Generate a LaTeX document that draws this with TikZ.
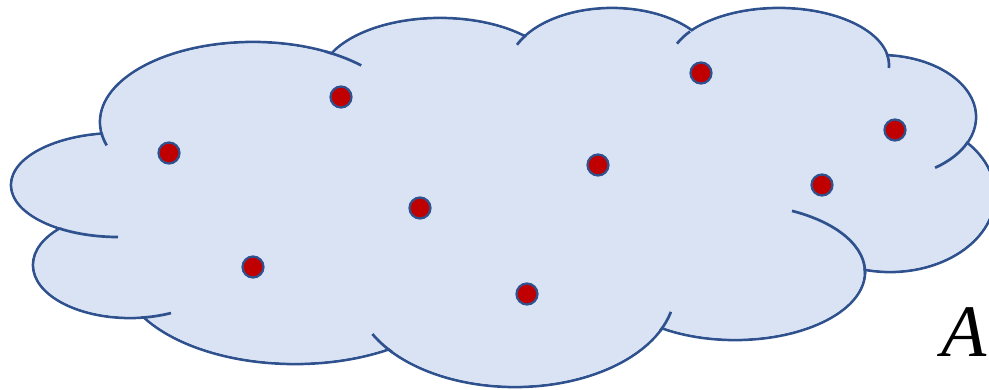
\documentclass[tikz,border=0pt]{standalone}
\usepackage{fontspec}
\newfontfamily\labelfont{Liberation Serif}
\definecolor{cloudfill}{HTML}{DAE3F3}
\definecolor{cloudline}{HTML}{2F528F}
\definecolor{dotred}{HTML}{C00000}
\tikzset{
  cloudstroke/.style={draw=cloudline, line width=2.7pt},
  hook/.style={draw=cloudline, line width=2.7pt},
  dotnode/.style={circle, minimum size=21pt, inner sep=0pt, fill=dotred, draw=cloudline, line width=2.2pt},
  labeltext/.style={anchor=base west, inner sep=0pt, font=\labelfont\itshape\fontsize{74}{74}\selectfont}
}
\def\bumps{253/122/153/80, 118/185/107/52, 130/265/97/53, 295/270/175/94, 515/290/160/97, 735/272/130/68, 890/195/105/77, 880/117/96/62, 779/65/110/57, 612/70/104/62, 440/80/120/62}
\def\corepoly{(253,122) -- (440,80) -- (612,70) -- (779,65) -- (880,117) -- (890,195) -- (735,272) -- (515,290) -- (295,270) -- (130,265) -- (118,185) -- cycle}
\begin{document}
\begin{tikzpicture}[x=1pt,y=-1pt]
\useasboundingbox (0,0) rectangle (989,389);
\clip (0,0) rectangle (989,389);
% base fill
\foreach \cx/\cy/\rx/\ry in \bumps {
  \fill[cloudfill] (\cx,\cy) ellipse[x radius=\rx, y radius=\ry];
}
\fill[cloudfill] \corepoly;
% outlines of every bump
\foreach \cx/\cy/\rx/\ry in \bumps {
  \draw[cloudstroke] (\cx,\cy) ellipse[x radius=\rx, y radius=\ry];
}
% cover inner parts
\foreach \cx/\cy/\rx/\ry in \bumps {
  \fill[cloudfill] (\cx,\cy) ellipse[x radius=\rx-1.45, y radius=\ry-1.45];
}
\fill[cloudfill] \corepoly;
% inner hooks
\draw[hook] (253,122) ++(172:153 and 80) arc[start angle=172, end angle=163, x radius=153, y radius=80];
\draw[hook] (253,122) ++(-62:153 and 80) arc[start angle=-62, end angle=-45, x radius=153, y radius=80];
\draw[hook] (118,185) ++(123:107 and 52) arc[start angle=123, end angle=90, x radius=107, y radius=52];
\draw[hook] (130,265) ++(83:97 and 53) arc[start angle=83, end angle=65, x radius=97, y radius=53];
\draw[hook] (515,290) ++(140:160 and 97) arc[start angle=140, end angle=153, x radius=160, y radius=97];
\draw[hook] (515,290) ++(25:160 and 97) arc[start angle=25, end angle=13, x radius=160, y radius=97];
\draw[hook] (735,272) ++(2:130 and 68) arc[start angle=2, end angle=-64, x radius=130, y radius=68];
\draw[hook] (880,117) ++(24:96 and 62) arc[start angle=24, end angle=55, x radius=96, y radius=62];
\draw[hook] (779,65) ++(-10:110 and 57) arc[start angle=-10, end angle=3, x radius=110, y radius=57];
\draw[hook] (779,65) ++(216:110 and 57) arc[start angle=216, end angle=202, x radius=110, y radius=57];
\draw[hook] (612,70) ++(214:104 and 62) arc[start angle=214, end angle=204, x radius=104, y radius=62];
% dots
\node[dotnode] (p1) at (169,153) {};
\node[dotnode] (p2) at (341,97) {};
\node[dotnode] (p3) at (420,208) {};
\node[dotnode] (p4) at (253,267) {};
\node[dotnode] (p5) at (527,294) {};
\node[dotnode] (p6) at (598,165) {};
\node[dotnode] (p7) at (701,73) {};
\node[dotnode] (p8) at (822,185) {};
\node[dotnode] (p9) at (895,130) {};
% label
\node[labeltext] (lbl) at (941,356) {A};
\end{tikzpicture}
\end{document}
